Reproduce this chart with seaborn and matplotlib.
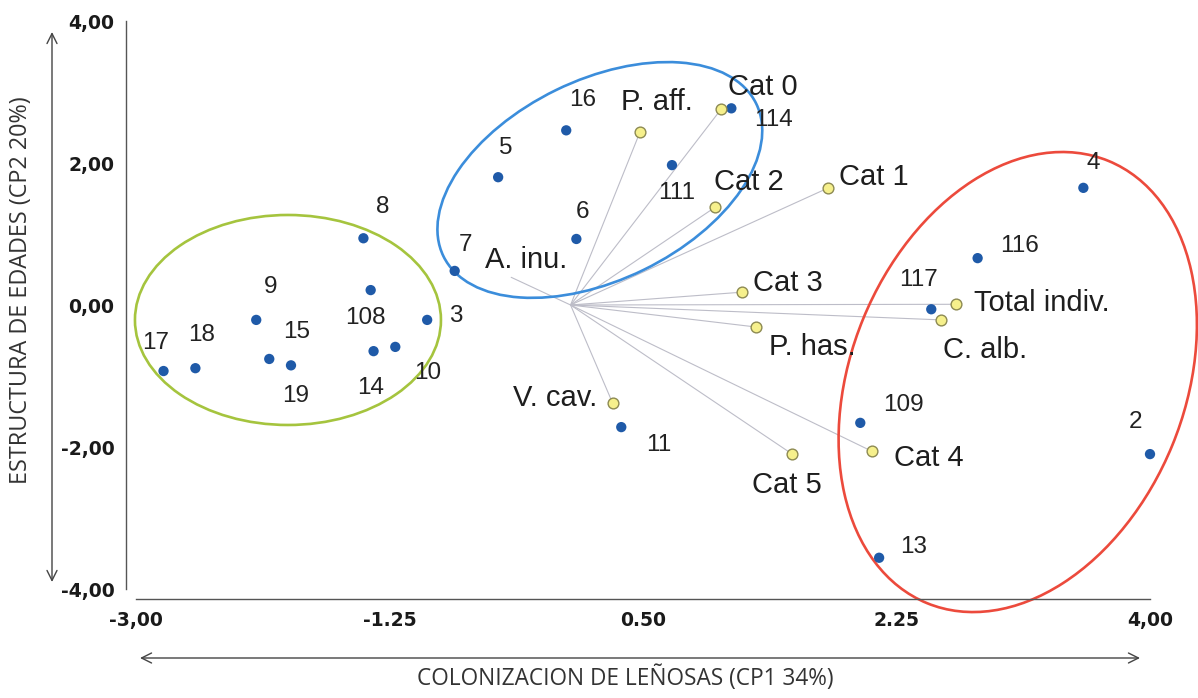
import numpy as np
import pandas as pd
import matplotlib
matplotlib.use("Agg")
import matplotlib.pyplot as plt
from matplotlib.patches import Ellipse, FancyArrowPatch
from matplotlib.transforms import ScaledTranslation
import seaborn as sns

# Site scores on the first two principal components
site_ids = ["17", "18", "9", "15", "19", "8", "108", "14", "10", "3", "7", "5",
            "16", "6", "111", "114", "11", "109", "13", "117", "116", "4", "2"]
site_cp1 = [-2.81, -2.59, -2.17, -2.08, -1.93, -1.43, -1.38, -1.36, -1.21, -0.99,
            -0.80, -0.50, -0.03, 0.04, 0.70, 1.11, 0.35, 2.00, 2.13, 2.49, 2.81,
            3.54, 4.00]
site_cp2 = [-0.93, -0.89, -0.21, -0.76, -0.85, 0.94, 0.21, -0.65, -0.59, -0.21,
            0.48, 1.80, 2.46, 0.93, 1.97, 2.77, -1.72, -1.66, -3.56, -0.06, 0.66,
            1.65, -2.10]

# Variable loadings (vectors drawn from the origin)
var_names = ["A. inu.", "P. aff.", "Cat 0", "Cat 2", "Cat 1", "Cat 3",
             "Total indiv.", "C. alb.", "P. has.", "V. cav.", "Cat 5", "Cat 4"]
var_cp1 = [-0.41, 0.48, 1.04, 1.00, 1.78, 1.18, 2.66, 2.56, 1.28, 0.29, 1.53, 2.08]
var_cp2 = [0.39, 2.44, 2.76, 1.38, 1.65, 0.18, 0.01, -0.21, -0.31, -1.38, -2.10, -2.06]

x_ticks = [-3.0, -1.25, 0.5, 2.25, 4.0]
x_tick_labels = ["-3,00", "-1.25", "0.50", "2.25", "4,00"]
y_ticks = [-4, -2, 0, 2, 4]
y_tick_labels = ["-4,00", "-2,00", "0,00", "2,00", "4,00"]

x_title = "COLONIZACION DE LEÑOSAS (CP1 34%)"
y_title = "ESTRUCTURA DE EDADES (CP2 20%)"

# label offsets in pixels (dx, dy)
site_label_offsets = {
    "17": (-8, 28), "18": (6, 33), "9": (14, 33), "15": (27, 27), "19": (5, -31),
    "8": (19, 31), "108": (-5, -28), "14": (-3, -37), "10": (32, -26), "3": (29, 4),
    "7": (11, 26), "5": (8, 29), "16": (16, 30), "6": (6, 27), "111": (5, -28),
    "114": (42, -12), "11": (37, -18), "109": (43, 18), "13": (35, 11),
    "117": (-13, 29), "116": (42, 12), "4": (10, 25), "2": (-15, 32),
}
var_label_offsets = {
    "A. inu.": (15, 17), "P. aff.": (17, 30), "Cat 0": (42, 22), "Cat 2": (33, 25),
    "Cat 1": (45, 11), "Cat 3": (46, 9), "Total indiv.": (86, 1), "C. alb.": (44, -30),
    "P. has.": (56, -20), "V. cav.": (-57, 5), "Cat 5": (-5, -31), "Cat 4": (57, -7),
}

sites = pd.DataFrame({"id": site_ids, "cp1": site_cp1, "cp2": site_cp2})
loadings = pd.DataFrame({"name": var_names, "cp1": var_cp1, "cp2": var_cp2})

sns.set_style("white")
plt.rcParams["font.family"] = ["Liberation Sans", "DejaVu Sans"]

W, H = 1198, 698
fig = plt.figure(figsize=(W / 100, H / 100), dpi=100)
fig.patch.set_facecolor("white")
ax = fig.add_axes([136 / W, 1 - 589 / H, (1150 - 136) / W, (589 - 21) / H])
ax.set_facecolor("white")
ax.set_xlim(-3, 4)
ax.set_ylim(-4, 4)

# loading vectors
for x, y in zip(loadings["cp1"], loadings["cp2"]):
    ax.plot([0, x], [0, y], color="#bdbdc8", lw=0.8, zorder=1)

# group ellipses (size in pixels, centred in data coordinates)
groups = [
    dict(center=(-1.951, -0.211), a=153, b=105, angle=0, color="#a5c43e"),
    dict(center=(0.202, 1.761), a=174, b=100, angle=26, color="#3b8ddb"),
    dict(center=(3.087, -1.085), a=239, b=167, angle=67.7, color="#ec4a3c"),
]
for g in groups:
    tr = fig.dpi_scale_trans + ScaledTranslation(g["center"][0], g["center"][1], ax.transData)
    e = Ellipse((0, 0), 2 * g["a"] / 100, 2 * g["b"] / 100, angle=g["angle"],
                transform=tr, fill=False, edgecolor=g["color"], lw=1.9, zorder=2,
                clip_on=False)
    ax.add_patch(e)

sns.scatterplot(data=sites, x="cp1", y="cp2", ax=ax, color="#1f5aa8", s=55,
                edgecolor="none", zorder=4, clip_on=False, legend=False)
shown = loadings[loadings["name"] != "A. inu."]
sns.scatterplot(data=shown, x="cp1", y="cp2", ax=ax, color="#f6f08c", s=60,
                edgecolor="#8d8a52", linewidth=1.0, zorder=4, clip_on=False,
                legend=False)

for sid, x, y in zip(sites["id"], sites["cp1"], sites["cp2"]):
    dx, dy = site_label_offsets[sid]
    ax.annotate(sid, (x, y), xytext=(dx, dy), textcoords="offset pixels",
                ha="center", va="center", fontsize=17.5, color="#222222", zorder=5)
for name, x, y in zip(loadings["name"], loadings["cp1"], loadings["cp2"]):
    dx, dy = var_label_offsets[name]
    ax.annotate(name, (x, y), xytext=(dx, dy), textcoords="offset pixels",
                ha="center", va="center", fontsize=21, color="#1e1e1e", zorder=5)

# axes styling
for side in ["top", "right"]:
    ax.spines[side].set_visible(False)
for side in ["left", "bottom"]:
    ax.spines[side].set_position(("outward", 7.5))
    ax.spines[side].set_color("#555555")
    ax.spines[side].set_linewidth(1.0)
ax.set_xticks(x_ticks)
ax.set_xticklabels(x_tick_labels)
ax.set_yticks(y_ticks)
ax.set_yticklabels(y_tick_labels)
ax.tick_params(axis="both", direction="out", length=4, width=1, color="#555555",
               pad=4, labelcolor="#1a1a1a")
for lbl in ax.get_xticklabels() + ax.get_yticklabels():
    lbl.set_fontfamily("DejaVu Sans")
    lbl.set_fontweight("bold")
    lbl.set_fontsize(13.5)
ax.set_xlabel("")
ax.set_ylabel("")

# axis titles with direction arrows
fig.text(625 / W, 1 - 678 / H, x_title, ha="center", va="center",
         fontsize=16.3, color="#333333", family=["Open Sans", "DejaVu Sans"])
fig.text(21 / W, 1 - 290 / H, y_title, ha="center", va="center", rotation=90,
         fontsize=16.8, color="#333333", family=["Open Sans", "DejaVu Sans"])
arrow_style = dict(arrowstyle="<->", color="#444444", lw=1.0,
                   mutation_scale=18, shrinkA=0, shrinkB=0)
fig.patches.append(FancyArrowPatch(
    (140 / W, 1 - 658 / H), (1140 / W, 1 - 658 / H), transform=fig.transFigure,
    **arrow_style))
fig.patches.append(FancyArrowPatch(
    (52 / W, 1 - 582 / H), (52 / W, 1 - 32 / H), transform=fig.transFigure,
    **arrow_style))

fig.savefig("out.png", dpi=100, facecolor="white")
